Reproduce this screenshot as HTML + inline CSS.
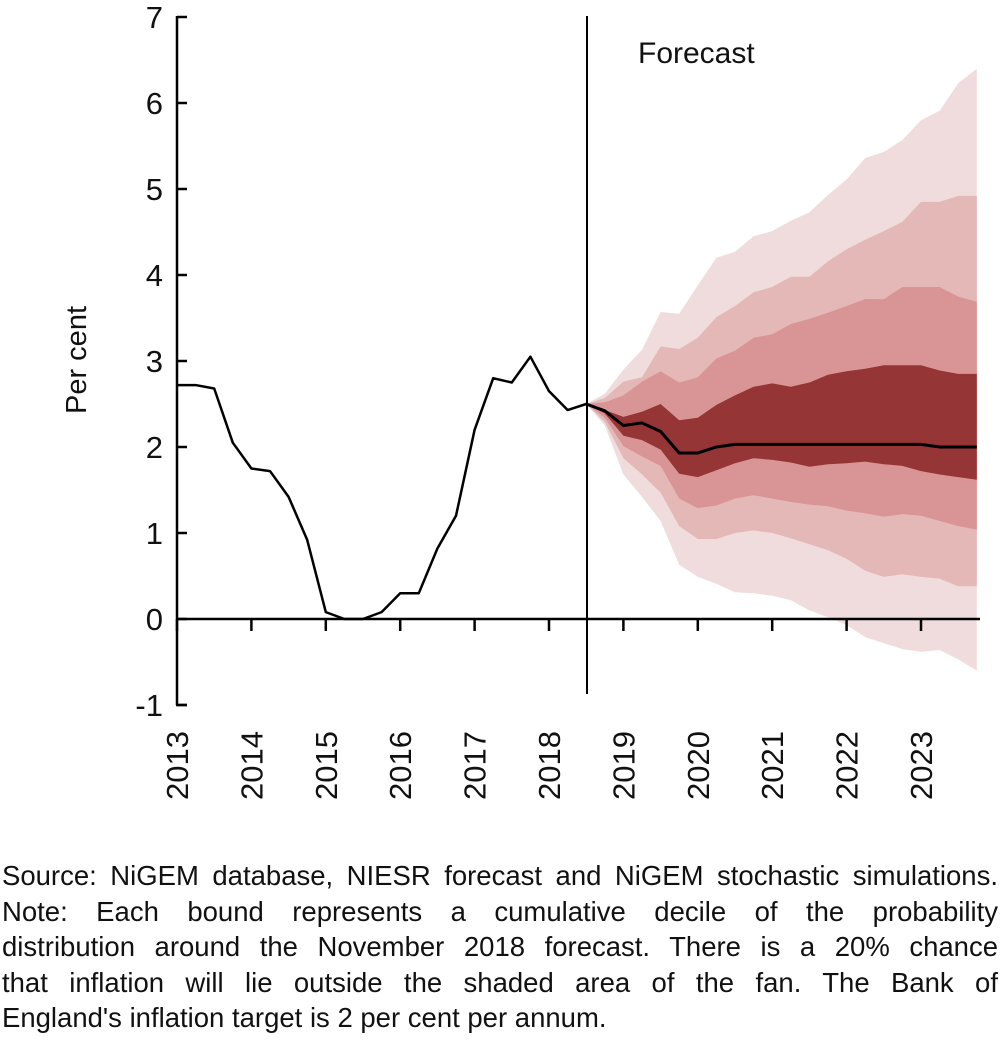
<!DOCTYPE html>
<html><head><meta charset="utf-8">
<style>
body{margin:0;background:#fff;width:1000px;height:1059px;overflow:hidden;font-family:"Liberation Sans",sans-serif;}
#notes{position:absolute;left:2px;top:858px;width:996px;font-size:27.5px;color:#111;}
#notes div{height:35.5px;line-height:35.5px;white-space:nowrap;}
.j{text-align:justify;text-align-last:justify;}
</style></head>
<body>
<svg id="chart" width="1000" height="850" style="position:absolute;left:0;top:0" xmlns="http://www.w3.org/2000/svg" font-family="Liberation Sans, sans-serif"></svg>
<div id="notes">
<div class="j">Source: NiGEM database, NIESR forecast and NiGEM stochastic simulations.</div>
<div class="j">Note: Each bound represents a cumulative decile of the probability</div>
<div class="j">distribution around the November 2018 forecast. There is a 20% chance</div>
<div class="j">that inflation will lie outside the shaded area of the fan. The Bank of</div>
<div>England's inflation target is 2 per cent per annum.</div>
</div>
<script>
const years = ["2013","2014","2015","2016","2017","2018","2019","2020","2021","2022","2023"];
const yTicks = [-1,0,1,2,3,4,5,6,7];
const history = [2.72,2.72,2.68,2.05,1.75,1.72,1.42,0.92,0.08,0.0,0.0,0.08,0.3,0.3,0.82,1.2,2.2,2.8,2.75,3.05,2.65,2.43,2.5];
const central = [2.5,2.42,2.25,2.28,2.18,1.93,1.93,2.0,2.03,2.03,2.03,2.03,2.03,2.03,2.03,2.03,2.03,2.03,2.03,2.0,2.0,2.0];
const upper90 = [2.5,2.62,2.90,3.13,3.57,3.55,3.88,4.20,4.27,4.45,4.51,4.63,4.73,4.93,5.11,5.36,5.43,5.57,5.80,5.91,6.23,6.40];
const upper80 = [2.5,2.57,2.76,2.81,3.17,3.14,3.27,3.51,3.64,3.80,3.86,3.98,3.98,4.16,4.30,4.41,4.51,4.62,4.85,4.85,4.92,4.92];
const upper70 = [2.5,2.52,2.60,2.76,2.88,2.75,2.81,3.03,3.12,3.27,3.31,3.43,3.49,3.56,3.64,3.72,3.72,3.86,3.86,3.86,3.75,3.69];
const upper60 = [2.5,2.43,2.35,2.41,2.50,2.31,2.34,2.49,2.60,2.70,2.74,2.70,2.75,2.84,2.88,2.91,2.95,2.95,2.95,2.89,2.85,2.85];
const lower40 = [2.5,2.39,2.13,2.08,1.97,1.69,1.65,1.73,1.81,1.87,1.85,1.82,1.77,1.80,1.81,1.83,1.80,1.78,1.72,1.68,1.65,1.62];
const lower30 = [2.5,2.34,2.01,1.89,1.78,1.40,1.29,1.32,1.40,1.44,1.40,1.36,1.33,1.31,1.26,1.23,1.19,1.22,1.20,1.14,1.08,1.04];
const lower20 = [2.5,2.29,1.87,1.68,1.47,1.08,0.93,0.93,1.00,1.03,1.00,0.94,0.87,0.80,0.70,0.56,0.49,0.52,0.49,0.47,0.38,0.38];
const lower10 = [2.5,2.25,1.68,1.42,1.14,0.63,0.49,0.41,0.31,0.30,0.27,0.22,0.10,0.02,-0.07,-0.21,-0.28,-0.35,-0.38,-0.36,-0.47,-0.60];
const forecastStart = 22;

const NS="http://www.w3.org/2000/svg";
const svg=document.getElementById('chart');
function x(i){return 177+i*18.6;}
function y(v){return 619-v*86;}
function mk(tag,attrs,parent){const e=document.createElementNS(NS,tag);for(const k in attrs)e.setAttribute(k,attrs[k]);(parent||svg).appendChild(e);return e;}

function band(up,lo,color,name){
  let pts=up.map((v,k)=>x(forecastStart+k).toFixed(1)+','+y(v).toFixed(1));
  for(let k=lo.length-1;k>=0;k--)pts.push(x(forecastStart+k).toFixed(1)+','+y(lo[k]).toFixed(1));
  const p=mk('polygon',{points:pts.join(' '),fill:color});
  
  
}
band(upper90,lower10,'#f0dcdc','band-10-90');
band(upper80,lower20,'#e5b8b8','band-20-80');
band(upper70,lower30,'#d99595','band-30-70');
band(upper60,lower40,'#953535','band-40-60');

const ya=mk('line',{x1:177,y1:16,x2:177,y2:705,stroke:'#000','stroke-width':2.5});


const yb=mk('line',{x1:176,y1:705,x2:187,y2:705,stroke:'#000','stroke-width':2.5});


const xa=mk('line',{x1:177,y1:619,x2:980,y2:619,stroke:'#000','stroke-width':2.5});



yTicks.forEach(t=>{
  const tk=mk('line',{x1:177,y1:y(t),x2:187,y2:y(t),stroke:'#000','stroke-width':2.5});
  
  
  const tx=mk('text',{x:163,y:y(t)+11,'text-anchor':'end','font-size':31,fill:'#111'});
  tx.textContent=t;
  
  
});
years.forEach((yr,k)=>{
  const xi=x(k*4);
  const tk=mk('line',{x1:xi,y1:619,x2:xi,y2:631,stroke:'#000','stroke-width':2.5});
  
  
  const tx=mk('text',{x:0,y:0,'text-anchor':'end','font-size':31,fill:'#111',transform:'translate('+(xi+11)+',731) rotate(-90)'});
  tx.textContent=yr;
  
  
});

const yl=mk('text',{x:0,y:0,'text-anchor':'middle','font-size':29,fill:'#111',transform:'translate(86,360) rotate(-90)'});
yl.textContent='Per cent';



const fl=mk('line',{x1:587,y1:16,x2:587,y2:694,stroke:'#000','stroke-width':2});


const ft=mk('text',{x:638,y:63,'font-size':30,fill:'#111'});
ft.textContent='Forecast';



const hl=mk('polyline',{points:history.map((v,i)=>x(i)+','+y(v)).join(' '),fill:'none',stroke:'#000','stroke-width':2.5,'stroke-linejoin':'round'});


const cl=mk('polyline',{points:central.map((v,k)=>x(forecastStart+k)+','+y(v)).join(' '),fill:'none',stroke:'#000','stroke-width':3});


</script>
</body></html>
